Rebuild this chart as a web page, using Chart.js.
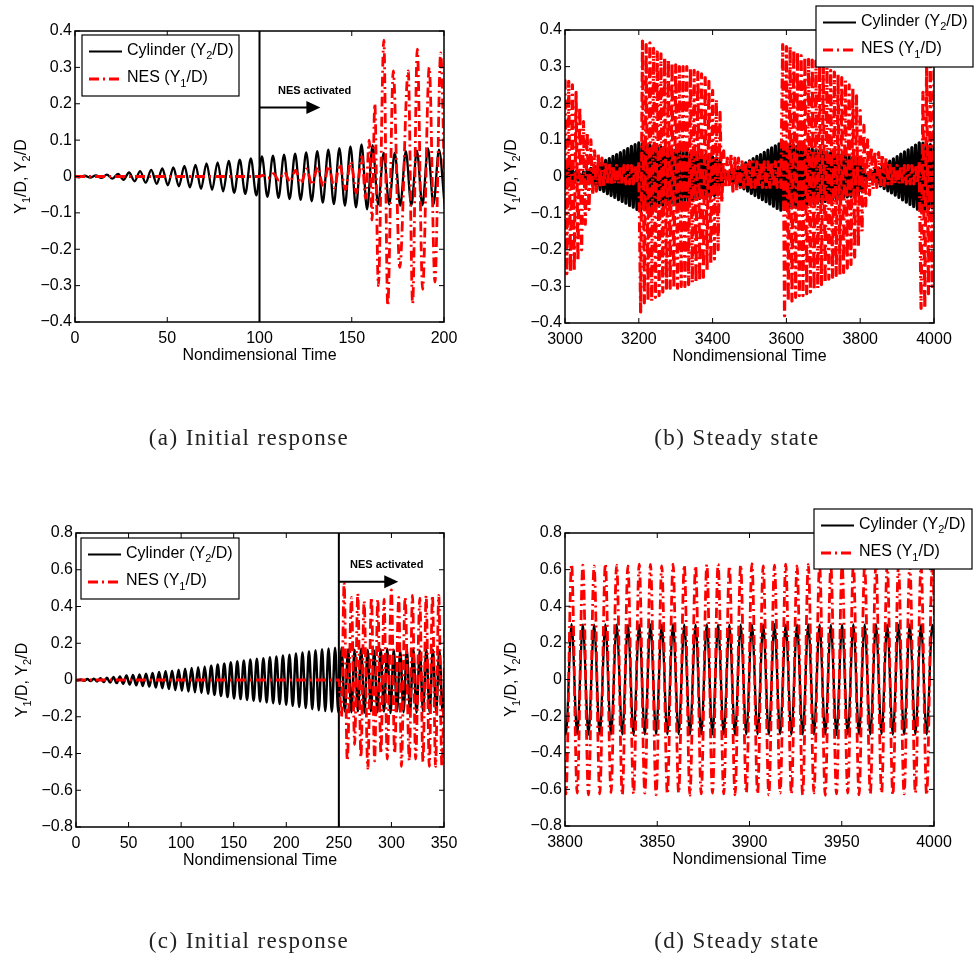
<!DOCTYPE html>
<html>

<head>
    <title>Cylinder and NES response</title>
    <script src="https://cdn.jsdelivr.net/npm/chart.js"></script> <!-- Chart.js library -->
    <style>
        body { margin: 0; background: #fff; }
        #fig { position: relative; width: 974px; height: 958px; }
        #fig canvas { position: absolute; }
    </style>
</head>

<body>

    <div id="fig">
        <canvas id="chA" width="487" height="479" style="left:0;top:0"></canvas>
        <canvas id="chB" width="487" height="479" style="left:487px;top:0"></canvas>
        <canvas id="chC" width="487" height="479" style="left:0;top:479px"></canvas>
        <canvas id="chD" width="487" height="479" style="left:487px;top:479px"></canvas>
    </div>

    <script>
        // ---- tick labels ----
        const xTicksA = [0, 50, 100, 150, 200];
        const xTicksB = [3000, 3200, 3400, 3600, 3800, 4000];
        const xTicksC = [0, 50, 100, 150, 200, 250, 300, 350];
        const xTicksD = [3800, 3850, 3900, 3950, 4000];
        const yTicks4 = [-0.4, -0.3, -0.2, -0.1, 0, 0.1, 0.2, 0.3, 0.4];
        const yTicks8 = [-0.8, -0.6, -0.4, -0.2, 0, 0.2, 0.4, 0.6, 0.8];

        // ---- (a) initial response: turning points of Y2/D on a regular time grid ----
        const cylA_t0 = -0.7, cylA_dt = 3.0;
        const cylA = [0, -0.002, 0.002, -0.003, 0.003, -0.004, 0.005, -0.006, 0.007, -0.009, 0.011, -0.013, 0.015, -0.017,
            0.018, -0.02, 0.022, -0.024, 0.025, -0.027, 0.029, -0.03, 0.032, -0.034, 0.036, -0.037, 0.039, -0.041, 0.043,
            -0.045, 0.046, -0.048, 0.05, -0.052, 0.055, -0.056, 0.057, -0.059, 0.06, -0.062, 0.063, -0.064, 0.066, -0.068,
            0.07, -0.072, 0.074, -0.076, 0.078, -0.08, 0.083, -0.085, 0.088, -0.09, 0.086, -0.077, 0.065, -0.077, 0.065,
            -0.08, 0.07, -0.08, 0.071, -0.079, 0.077, -0.077, 0.074, -0.076];
        // NES Y1/D turning points
        const nesA_t = [0, 100, 101.5, 104.5, 107.5, 110.5, 113.5, 116.5, 119.5, 122.5, 125.5, 128.5, 131.5, 134.5, 137.5,
            140.5, 143.5, 146.5, 149.5, 152.5, 155.5, 157.5, 159.5, 161, 162.5, 164.4, 167.4, 169.5, 172.5, 176, 180.6,
            183, 185.5, 188.4, 192, 195.1, 198.2, 200.6];
        const nesA_y = [0, 0, 0.003, -0.005, 0.008, -0.01, 0.012, -0.015, 0.017, -0.019, 0.021, -0.023, 0.025, -0.027,
            0.029, -0.031, 0.034, -0.036, 0.04, -0.045, 0.055, -0.06, 0.1, -0.12, 0.2, -0.3, 0.375, -0.355, 0.29, -0.25,
            0.29, -0.35, 0.35, -0.31, 0.3, -0.29, 0.34, -0.1];

        // ---- (b) steady state, sampled every 5 time units ----
        const cylB_t0 = 3000, cylB_dt = 5;
        const cylB = [0.035, -0.031, 0.028, -0.024, 0.02, -0.017, 0.013, -0.01, 0.006,
            -0.009, 0.012, -0.014, 0.017, -0.02, 0.022, -0.025, 0.028, -0.03, 0.033, -0.036, 0.038, -0.041, 0.044, -0.047,
            0.049, -0.052, 0.055, -0.057, 0.06, -0.063, 0.065, -0.068, 0.071, -0.073, 0.076, -0.079, 0.082, -0.084, 0.087,
            -0.09, 0.092, -0.095,
            0.09, -0.089, 0.088, -0.087, 0.086, -0.085, 0.084, -0.083, 0.082, -0.081, 0.08, -0.079, 0.078, -0.077, 0.076,
            -0.075, 0.074, -0.074, 0.073, -0.072, 0.071, -0.07, 0.069, -0.068, 0.067, -0.066, 0.065, -0.064, 0.063, -0.062,
            0.061, -0.06, 0.059, -0.058, 0.057, -0.056, 0.055, -0.054, 0.053, -0.052, 0.051, -0.05,
            0.045, -0.025, 0.008, -0.005,
            0.008, -0.011, 0.014, -0.017, 0.02, -0.023, 0.026, -0.029, 0.031, -0.034, 0.037, -0.04, 0.043, -0.046, 0.049,
            -0.052, 0.055, -0.058, 0.06, -0.063, 0.066, -0.069, 0.072, -0.075, 0.078, -0.081, 0.084, -0.087, 0.089, -0.092,
            0.095,
            -0.09, 0.089, -0.088, 0.087, -0.086, 0.085, -0.084, 0.083, -0.082, 0.081, -0.08, 0.079, -0.078, 0.077, -0.076,
            0.075, -0.074, 0.073, -0.072, 0.071, -0.07, 0.069, -0.068, 0.067, -0.066, 0.065, -0.064, 0.063, -0.062, 0.061,
            -0.06, 0.059, -0.058, 0.057, -0.056, 0.055, -0.054, 0.053, -0.052, 0.051, -0.05, 0.049,
            -0.04, 0.02, -0.008, 0.005,
            -0.008, 0.011, -0.014, 0.017, -0.02, 0.023, -0.026, 0.029, -0.033, 0.036, -0.039, 0.042, -0.045, 0.048, -0.051,
            0.054, -0.057, 0.061, -0.064, 0.067, -0.07, 0.073, -0.076, 0.079, -0.082, 0.086, -0.089, 0.092, -0.095,
            0.091, -0.09, 0.089, -0.088, 0.087, -0.086, 0.085];
        const nesB = [0.265, -0.265, 0.26, -0.262, 0.25, -0.258, 0.23, -0.23, 0.19, -0.2, 0.15, -0.13, 0.12, -0.09, 0.1,
            -0.05, 0.07, -0.04, 0.06, -0.03, 0.05, -0.03, 0.04, -0.02, 0.035, -0.02, 0.03, -0.02, 0.03, -0.02, 0.03, -0.02,
            0.03, -0.02, 0.03, -0.02, 0.03, -0.02, 0.03, -0.02, 0.04,
            -0.37, 0.37, -0.345, 0.36, -0.34, 0.365, -0.34, 0.35, -0.33, 0.34, -0.325, 0.335, -0.315, 0.325, -0.305, 0.32,
            -0.305, 0.31, -0.305, 0.305, -0.305, 0.3, -0.3, 0.3, -0.3, 0.3, -0.295, 0.295, -0.29, 0.29, -0.29, 0.285,
            -0.285, 0.28, -0.275, 0.27, -0.255, 0.26, -0.24, 0.235, -0.225, 0.21, -0.2, 0.175, -0.07, 0.07, -0.03,
            0.05, -0.03, 0.06, -0.04, 0.05, -0.04, 0.05, -0.03, 0.04, -0.03, 0.04, -0.03, 0.04, -0.03, 0.04, -0.03, 0.04,
            -0.03, 0.04, -0.03, 0.04, -0.03, 0.04, -0.03, 0.04, -0.03, 0.04, -0.03, 0.04, -0.03,
            0.36, -0.38, 0.355, -0.34, 0.355, -0.34, 0.345, -0.33, 0.34, -0.325, 0.33, -0.325, 0.325, -0.32, 0.32, -0.315,
            0.318, -0.31, 0.315, -0.305, 0.31, -0.295, 0.305, -0.29, 0.298, -0.28, 0.29, -0.275, 0.285, -0.27, 0.278,
            -0.268, 0.27, -0.262, 0.262, -0.25, 0.25, -0.24, 0.24, -0.22, 0.22, -0.19, 0.18, -0.15, 0.14, -0.08, 0.1,
            -0.05, 0.08, -0.035, 0.07, -0.03, 0.065, -0.03, 0.06, -0.025, 0.05, -0.02, 0.04, -0.02, 0.03,
            -0.02, 0.03, -0.02, 0.03, -0.02, 0.03, -0.02, 0.03, -0.02, 0.03, -0.02, 0.03, -0.02, 0.04,
            -0.36, 0.23, -0.36, 0.3, -0.32, 0.3, -0.3, 0.3];

        // ---- (c) initial response, NES activated at t = 250 ----
        const cylC_t0 = -1.6, cylC_dt = 3.1;
        const cylC = [0, -0.002, 0.003, -0.004, 0.005, -0.006, 0.007, -0.008, 0.009, -0.011, 0.012, -0.014, 0.016, -0.017,
            0.019, -0.021, 0.024, -0.025, 0.027, -0.029, 0.03, -0.032, 0.034, -0.036, 0.038, -0.041, 0.043, -0.045, 0.047,
            -0.049, 0.051, -0.054, 0.056, -0.058, 0.061, -0.063, 0.065, -0.067, 0.069, -0.071, 0.073, -0.075, 0.078,
            -0.081, 0.084, -0.087, 0.09, -0.093, 0.097, -0.1, 0.102, -0.104, 0.106, -0.109, 0.111, -0.113, 0.115, -0.117,
            0.119, -0.122, 0.124, -0.126, 0.128, -0.131, 0.133, -0.135, 0.138, -0.141, 0.144, -0.147, 0.15, -0.153, 0.156,
            -0.159, 0.162, -0.165, 0.167, -0.169, 0.171, -0.173, 0.175, -0.176, 0.175, -0.172, 0.168, -0.175, 0.165,
            -0.17, 0.172, -0.178, 0.165, -0.17, 0.16, -0.175, 0.168, -0.172, 0.17, -0.18, 0.165, -0.17, 0.158, -0.175,
            0.165, -0.172, 0.17, -0.178, 0.16, -0.17, 0.168, -0.175, 0.165, -0.17, 0.16, -0.172, 0.165];
        const nesC_t = [0, 250, 252.5, 255, 258, 262, 265, 268, 271, 274, 277.5, 281, 284, 287, 290, 293, 296, 300, 303,
            307, 309.5, 313, 317, 320, 323, 327, 330, 333, 336, 339, 342, 345, 348, 351];
        const nesC_y = [0, 0, -0.2, 0.53, -0.44, 0.45, -0.35, 0.47, -0.42, 0.43, -0.48, 0.45, -0.44, 0.44, -0.4, 0.44,
            -0.43, 0.49, -0.4, 0.45, -0.47, 0.45, -0.44, 0.46, -0.43, 0.445, -0.445, 0.46, -0.47, 0.46, -0.47, 0.46,
            -0.47, 0.3];

        // ---- (d) steady state ----
        const cylD_t0 = 3797.445, cylD_dt = 3.055;
        const cylD = [0.3, -0.3, 0.302, -0.298, 0.3, -0.301, 0.299, -0.3, 0.301, -0.299,
            0.3, -0.3, 0.298, -0.302, 0.3, -0.3, 0.301, -0.299, 0.3, -0.3,
            0.302, -0.298, 0.3, -0.301, 0.299, -0.3, 0.301, -0.299, 0.3, -0.3,
            0.298, -0.302, 0.3, -0.3, 0.301, -0.299, 0.3, -0.3, 0.302, -0.298,
            0.3, -0.301, 0.299, -0.3, 0.301, -0.299, 0.3, -0.3, 0.298, -0.302,
            0.3, -0.3, 0.301, -0.299, 0.3, -0.3, 0.302, -0.298, 0.3, -0.301,
            0.299, -0.3, 0.301, -0.299, 0.3, -0.3, 0.298, -0.302];
        const nesD = [0.62, -0.625, 0.63, -0.62, 0.625, -0.63, 0.62, -0.625, 0.632, -0.618,
            0.625, -0.63, 0.62, -0.625, 0.63, -0.62, 0.628, -0.63, 0.62, -0.625,
            0.63, -0.62, 0.625, -0.632, 0.62, -0.625, 0.628, -0.62, 0.63, -0.625,
            0.62, -0.63, 0.625, -0.62, 0.632, -0.625, 0.62, -0.63, 0.625, -0.62,
            0.63, -0.625, 0.62, -0.63, 0.628, -0.62, 0.625, -0.632, 0.62, -0.625,
            0.63, -0.62, 0.625, -0.63, 0.62, -0.625, 0.632, -0.62, 0.625, -0.63,
            0.62, -0.625, 0.63, -0.62, 0.625, -0.63, 0.62, -0.625];

        const FONT = '"Liberation Sans", Arial, sans-serif';
        Chart.defaults.font.family = FONT;
        Chart.defaults.font.size = 16;
        Chart.defaults.color = '#000';

        function grid(t0, dt, vals) { return vals.map((v, i) => ({ x: t0 + i * dt, y: v })); }
        function pairs(ts, vs) { return ts.map((t, i) => ({ x: t, y: vs[i] })); }
        function fmt(v) {
            const s = String(Math.abs(Math.round(v * 1000) / 1000));
            return v < 0 ? '\u2212' + s : s;
        }

        // text with subscripts: parts = [[text, isSub], ...]
        function partsWidth(ctx, parts, size) {
            let w = 0;
            parts.forEach(([t, sub]) => { ctx.font = (sub ? 11 : size) + 'px ' + FONT; w += ctx.measureText(t).width; });
            return w;
        }
        function drawParts(ctx, parts, x, y, size) {
            let cx = x;
            parts.forEach(([t, sub]) => {
                ctx.font = (sub ? 11 : size) + 'px ' + FONT;
                ctx.fillText(t, cx, sub ? y + 4.5 : y);
                cx += ctx.measureText(t).width;
            });
        }
        const yTitle = [['Y', 0], ['1', 1], ['/D, Y', 0], ['2', 1], ['/D', 0]];
        const legCyl = [['Cylinder (Y', 0], ['2', 1], ['/D)', 0]];
        const legNes = [['NES (Y', 0], ['1', 1], ['/D)', 0]];
        const DASHDOT = [10, 4, 2, 4];

        function decor(p) {
            return {
                id: 'decor',
                afterDraw(chart) {
                    const ctx = chart.ctx, a = chart.chartArea, xs = chart.scales.x, ys = chart.scales.y;
                    ctx.save();
                    ctx.strokeStyle = '#000';
                    ctx.fillStyle = '#000';
                    // frame with inward ticks on all sides
                    ctx.lineWidth = 1.5;
                    ctx.strokeRect(a.left, a.top, a.right - a.left, a.bottom - a.top);
                    ctx.lineWidth = 1;
                    ctx.beginPath();
                    p.xTicks.forEach(v => {
                        const px = xs.getPixelForValue(v);
                        ctx.moveTo(px, a.bottom); ctx.lineTo(px, a.bottom - 5);
                        ctx.moveTo(px, a.top); ctx.lineTo(px, a.top + 5);
                    });
                    p.yTicks.forEach(v => {
                        const py = ys.getPixelForValue(v);
                        ctx.moveTo(a.left, py); ctx.lineTo(a.left + 5, py);
                        ctx.moveTo(a.right, py); ctx.lineTo(a.right - 5, py);
                    });
                    ctx.stroke();

                    // "NES activated" arrow
                    if (p.note) {
                        const n = p.note;
                        const x0 = xs.getPixelForValue(n.x0), x1 = xs.getPixelForValue(n.x1), y = ys.getPixelForValue(n.y);
                        ctx.lineWidth = 2;
                        ctx.beginPath(); ctx.moveTo(x0, y); ctx.lineTo(x1 - 12, y); ctx.stroke();
                        ctx.beginPath(); ctx.moveTo(x1, y); ctx.lineTo(x1 - 14, y - 6.5); ctx.lineTo(x1 - 14, y + 6.5);
                        ctx.closePath(); ctx.fill();
                        ctx.font = 'bold 11px ' + FONT;
                        ctx.textAlign = 'left';
                        ctx.fillText('NES activated', xs.getPixelForValue(n.tx), ys.getPixelForValue(n.ty));
                    }

                    // legend
                    const L = p.legend;
                    const r1 = L.y + 16.5, r2 = L.y + 44;
                    ctx.fillStyle = '#fff';
                    ctx.fillRect(L.x, L.y, L.w, L.h);
                    ctx.lineWidth = 1.2;
                    ctx.strokeRect(L.x, L.y, L.w, L.h);
                    ctx.lineWidth = 2.2;
                    ctx.beginPath(); ctx.moveTo(L.x + 7, r1); ctx.lineTo(L.x + 40, r1); ctx.stroke();
                    ctx.strokeStyle = '#ff0000';
                    ctx.lineWidth = 2.8;
                    ctx.setLineDash(DASHDOT);
                    ctx.beginPath(); ctx.moveTo(L.x + 7, r2); ctx.lineTo(L.x + 40, r2); ctx.stroke();
                    ctx.setLineDash([]);
                    ctx.fillStyle = '#000';
                    ctx.textAlign = 'left';
                    ctx.textBaseline = 'alphabetic';
                    drawParts(ctx, legCyl, L.x + 45, r1 + 3, 16);
                    drawParts(ctx, legNes, L.x + 45, r2 + 3, 16);

                    // axis titles
                    ctx.font = '16px ' + FONT;
                    ctx.textAlign = 'center';
                    ctx.fillText('Nondimensional Time', (a.left + a.right) / 2, a.bottom + 37.5);
                    ctx.textAlign = 'left';
                    ctx.save();
                    ctx.translate(a.left - 49.5, (a.top + a.bottom) / 2);
                    ctx.rotate(-Math.PI / 2);
                    drawParts(ctx, yTitle, -partsWidth(ctx, yTitle, 16) / 2, 0, 16);
                    ctx.restore();

                    // sub-figure caption
                    ctx.font = '23px "Liberation Serif", "Times New Roman", serif';
                    ctx.letterSpacing = '1.4px';
                    ctx.fillStyle = '#222';
                    ctx.textAlign = 'center';
                    ctx.fillText(p.caption, p.capX, p.capY);
                    ctx.restore();
                }
            };
        }

        const panels = [
            {
                canvas: 'chA', xMin: 0, xMax: 200, xTicks: xTicksA, yMin: -0.4, yMax: 0.4, yTicks: yTicks4,
                top: 31, right: 43, yW: 75, xH: 157, smooth: true, cylW: 2.3, nesW: 2.8,
                cyl: grid(cylA_t0, cylA_dt, cylA), nes: pairs(nesA_t, nesA_y), vline: 100,
                note: { x0: 100, x1: 133, y: 0.19, tx: 110, ty: 0.227 },
                legend: { x: 82, y: 35, w: 157, h: 61 },
                caption: '(a) Initial response', capX: 249, capY: 445
            },
            {
                canvas: 'chB', xMin: 3000, xMax: 4000, xTicks: xTicksB, yMin: -0.4, yMax: 0.4, yTicks: yTicks4,
                top: 30, right: 40, yW: 78, xH: 156, smooth: false, cylW: 3.2, nesW: 3.2,
                cyl: grid(cylB_t0, cylB_dt, cylB), nes: grid(cylB_t0, cylB_dt, nesB),
                legend: { x: 329, y: 6, w: 157, h: 61 },
                caption: '(b) Steady state', capX: 250, capY: 445
            },
            {
                canvas: 'chC', xMin: 0, xMax: 350, xTicks: xTicksC, yMin: -0.8, yMax: 0.8, yTicks: yTicks8,
                top: 54, right: 43, yW: 76, xH: 131, smooth: true, cylW: 2.5, nesW: 2.8,
                cyl: grid(cylC_t0, cylC_dt, cylC), nes: pairs(nesC_t, nesC_y), vline: 250,
                note: { x0: 250, x1: 306.5, y: 0.535, tx: 260.6, ty: 0.61 },
                legend: { x: 81, y: 59, w: 158, h: 61 },
                caption: '(c) Initial response', capX: 249, capY: 469
            },
            {
                canvas: 'chD', xMin: 3800, xMax: 4000, xTicks: xTicksD, yMin: -0.8, yMax: 0.8, yTicks: yTicks8,
                top: 54, right: 40, yW: 78, xH: 132, smooth: true, cylW: 2.3, nesW: 2.8,
                cyl: grid(cylD_t0, cylD_dt, cylD), nes: grid(cylD_t0, cylD_dt, nesD),
                legend: { x: 327, y: 30, w: 158, h: 60 },
                caption: '(d) Steady state', capX: 250, capY: 469
            }
        ];

        panels.forEach(p => {
            const base = { pointRadius: 0, fill: false, borderJoinStyle: 'round', tension: 0 };
            const datasets = [
                Object.assign({}, base, {
                    label: 'NES (Y1/D)', data: p.nes, borderColor: '#ff0000', borderWidth: p.nesW,
                    borderDash: DASHDOT, cubicInterpolationMode: p.smooth ? 'monotone' : 'default'
                }),
                Object.assign({}, base, {
                    label: 'Cylinder (Y2/D)', data: p.cyl, borderColor: '#000000', borderWidth: p.cylW,
                    cubicInterpolationMode: p.smooth ? 'monotone' : 'default'
                })
            ];
            if (p.vline !== undefined) {
                datasets.push(Object.assign({}, base, {
                    label: 'NES activation', borderColor: '#000000', borderWidth: 2,
                    data: [{ x: p.vline, y: p.yMin }, { x: p.vline, y: p.yMax }]
                }));
            }
            new Chart(document.getElementById(p.canvas), {
                type: 'line',
                data: { datasets: datasets },
                options: {
                    responsive: false,
                    animation: false,
                    events: [],
                    layout: { padding: { left: 0, top: p.top, right: p.right, bottom: 0 } },
                    plugins: { legend: { display: false }, tooltip: { enabled: false } },
                    scales: {
                        x: {
                            type: 'linear', min: p.xMin, max: p.xMax,
                            grid: { display: false, drawTicks: false }, border: { display: false },
                            ticks: { padding: 7, maxRotation: 0, autoSkip: false, callback: v => fmt(v) },
                            afterBuildTicks: s => { s.ticks = p.xTicks.map(v => ({ value: v })); },
                            afterFit: s => { s.height = p.xH; }
                        },
                        y: {
                            type: 'linear', min: p.yMin, max: p.yMax,
                            grid: { display: false, drawTicks: false }, border: { display: false },
                            ticks: { padding: 3, autoSkip: false, callback: v => fmt(v) },
                            afterBuildTicks: s => { s.ticks = p.yTicks.map(v => ({ value: v })); },
                            afterFit: s => { s.width = p.yW; }
                        }
                    }
                },
                plugins: [decor(p)]
            });
        });
    </script>

</body>

</html>
